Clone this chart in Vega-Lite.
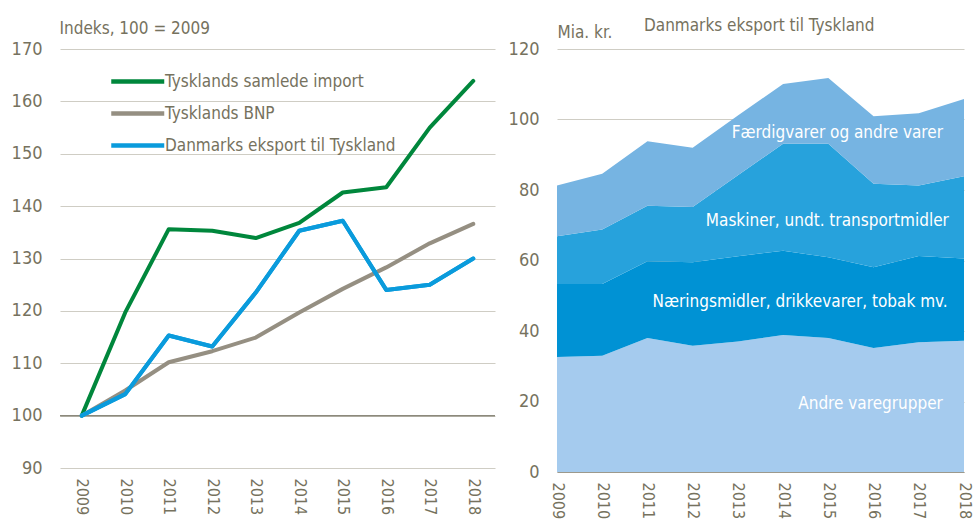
{
  "$schema": "https://vega.github.io/schema/vega-lite/v6.json",
  "background": "white",
  "padding": {"left": 11, "top": 17, "right": 5, "bottom": 0},
  "spacing": 62,
  "bounds": "flush",
  "config": {
    "view": {"stroke": null},
    "font": "DejaVu Sans Condensed",
    "axis": {"labelFont": "DejaVu Sans Condensed", "titleFont": "DejaVu Sans Condensed", "labelColor": "#76725E", "titleColor": "#76725E", "labelFontSize": 18, "titleFontSize": 17, "titleFontWeight": "normal", "gridColor": "#CFCDC4", "gridWidth": 1.2}
  },
  "datasets": {
    "index": [
      {"year": "2009", "series": "Tysklands samlede import", "value": 100},
      {"year": "2010", "series": "Tysklands samlede import", "value": 119.7},
      {"year": "2011", "series": "Tysklands samlede import", "value": 135.6},
      {"year": "2012", "series": "Tysklands samlede import", "value": 135.3},
      {"year": "2013", "series": "Tysklands samlede import", "value": 133.9},
      {"year": "2014", "series": "Tysklands samlede import", "value": 136.8},
      {"year": "2015", "series": "Tysklands samlede import", "value": 142.6},
      {"year": "2016", "series": "Tysklands samlede import", "value": 143.6},
      {"year": "2017", "series": "Tysklands samlede import", "value": 155.0},
      {"year": "2018", "series": "Tysklands samlede import", "value": 163.9},
      {"year": "2009", "series": "Tysklands BNP", "value": 100},
      {"year": "2010", "series": "Tysklands BNP", "value": 104.8},
      {"year": "2011", "series": "Tysklands BNP", "value": 110.2},
      {"year": "2012", "series": "Tysklands BNP", "value": 112.3},
      {"year": "2013", "series": "Tysklands BNP", "value": 114.9},
      {"year": "2014", "series": "Tysklands BNP", "value": 119.7},
      {"year": "2015", "series": "Tysklands BNP", "value": 124.2},
      {"year": "2016", "series": "Tysklands BNP", "value": 128.3},
      {"year": "2017", "series": "Tysklands BNP", "value": 132.9},
      {"year": "2018", "series": "Tysklands BNP", "value": 136.6},
      {"year": "2009", "series": "Danmarks eksport til Tyskland", "value": 100},
      {"year": "2010", "series": "Danmarks eksport til Tyskland", "value": 104.1},
      {"year": "2011", "series": "Danmarks eksport til Tyskland", "value": 115.3},
      {"year": "2012", "series": "Danmarks eksport til Tyskland", "value": 113.2},
      {"year": "2013", "series": "Danmarks eksport til Tyskland", "value": 123.5},
      {"year": "2014", "series": "Danmarks eksport til Tyskland", "value": 135.3},
      {"year": "2015", "series": "Danmarks eksport til Tyskland", "value": 137.2},
      {"year": "2016", "series": "Danmarks eksport til Tyskland", "value": 124.0},
      {"year": "2017", "series": "Danmarks eksport til Tyskland", "value": 125.0},
      {"year": "2018", "series": "Danmarks eksport til Tyskland", "value": 130.0}
    ],
    "export": [
      {"year": "2009", "group": "Andre varegrupper", "value": 32.6},
      {"year": "2010", "group": "Andre varegrupper", "value": 33.0},
      {"year": "2011", "group": "Andre varegrupper", "value": 38.0},
      {"year": "2012", "group": "Andre varegrupper", "value": 35.8},
      {"year": "2013", "group": "Andre varegrupper", "value": 37.0},
      {"year": "2014", "group": "Andre varegrupper", "value": 38.9},
      {"year": "2015", "group": "Andre varegrupper", "value": 38.0},
      {"year": "2016", "group": "Andre varegrupper", "value": 35.2},
      {"year": "2017", "group": "Andre varegrupper", "value": 36.8},
      {"year": "2018", "group": "Andre varegrupper", "value": 37.2},
      {"year": "2009", "group": "Næringsmidler", "value": 20.7},
      {"year": "2010", "group": "Næringsmidler", "value": 20.3},
      {"year": "2011", "group": "Næringsmidler", "value": 21.8},
      {"year": "2012", "group": "Næringsmidler", "value": 23.7},
      {"year": "2013", "group": "Næringsmidler", "value": 24.2},
      {"year": "2014", "group": "Næringsmidler", "value": 23.9},
      {"year": "2015", "group": "Næringsmidler", "value": 22.9},
      {"year": "2016", "group": "Næringsmidler", "value": 22.9},
      {"year": "2017", "group": "Næringsmidler", "value": 24.5},
      {"year": "2018", "group": "Næringsmidler", "value": 23.4},
      {"year": "2009", "group": "Maskiner", "value": 13.6},
      {"year": "2010", "group": "Maskiner", "value": 15.5},
      {"year": "2011", "group": "Maskiner", "value": 15.7},
      {"year": "2012", "group": "Maskiner", "value": 15.7},
      {"year": "2013", "group": "Maskiner", "value": 23.0},
      {"year": "2014", "group": "Maskiner", "value": 30.3},
      {"year": "2015", "group": "Maskiner", "value": 32.2},
      {"year": "2016", "group": "Maskiner", "value": 23.7},
      {"year": "2017", "group": "Maskiner", "value": 20.0},
      {"year": "2018", "group": "Maskiner", "value": 23.3},
      {"year": "2009", "group": "Færdigvarer", "value": 14.4},
      {"year": "2010", "group": "Færdigvarer", "value": 15.8},
      {"year": "2011", "group": "Færdigvarer", "value": 18.3},
      {"year": "2012", "group": "Færdigvarer", "value": 16.8},
      {"year": "2013", "group": "Færdigvarer", "value": 16.9},
      {"year": "2014", "group": "Færdigvarer", "value": 17.0},
      {"year": "2015", "group": "Færdigvarer", "value": 18.7},
      {"year": "2016", "group": "Færdigvarer", "value": 19.1},
      {"year": "2017", "group": "Færdigvarer", "value": 20.5},
      {"year": "2018", "group": "Færdigvarer", "value": 21.9}
    ],
    "labels": [
      {"key": "f", "label": "Færdigvarer og andre varer", "year": "2015", "value": 96.3},
      {"key": "m", "label": "Maskiner, undt. transportmidler", "year": "2015", "value": 71.2},
      {"key": "n", "label": "Næringsmidler, drikkevarer, tobak mv.", "year": "2014", "value": 48.3},
      {"key": "a", "label": "Andre varegrupper", "year": "2016", "value": 19.3}
    ]
  },
  "resolve": {"scale": {"color": "independent"}, "legend": {"color": "independent"}},
  "hconcat": [
    {
      "width": 435,
      "height": 419,
      "layer": [
        {
          "data": {"name": "index"},
          "mark": {"type": "line", "strokeWidth": 4, "strokeJoin": "round", "strokeCap": "round"},
          "encoding": {
            "x": {"field": "year", "type": "ordinal", "scale": {"type": "point", "padding": 0.5},
                  "axis": {"title": null, "labelAngle": 90, "labelAlign": "left", "labelBaseline": "middle", "labelPadding": 10, "labelFontSize": 16, "ticks": false, "domain": false, "grid": false}},
            "y": {"field": "value", "type": "quantitative", "scale": {"domain": [90, 170], "nice": false, "zero": false},
                  "axis": {"values": [90, 100, 110, 120, 130, 140, 150, 160, 170], "domain": false, "ticks": false, "labelPadding": 18,
                           "title": "Indeks, 100 = 2009", "titleAngle": 0, "titleAlign": "left", "titleBaseline": "alphabetic", "titleX": -1, "titleY": -16}},
            "color": {"field": "series", "type": "nominal",
                      "scale": {"domain": ["Tysklands samlede import", "Tysklands BNP", "Danmarks eksport til Tyskland"], "range": ["#00873C", "#958F82", "#0A9BDC"]},
                      "legend": {"orient": "none", "legendX": 49, "legendY": 17, "title": null, "symbolType": "M-1,0H3", "symbolStrokeWidth": 4.5, "symbolSize": 702,
                                 "labelFont": "DejaVu Sans Condensed", "labelFontSize": 17, "labelColor": "#76725E", "labelLimit": 0, "rowPadding": 7, "labelOffset": 25, "padding": 0}}
          }
        },
        {
          "data": {"values": [{"ref": 100}]},
          "mark": {"type": "rule", "color": "#8C897C", "strokeWidth": 1.5},
          "encoding": {"y": {"field": "ref", "type": "quantitative"}}
        },
        {
          "data": {"name": "index"},
          "transform": [{"filter": "datum.series === 'Danmarks eksport til Tyskland'"}],
          "mark": {"type": "line", "strokeWidth": 4, "strokeJoin": "round", "strokeCap": "round", "color": "#0A9BDC"},
          "encoding": {
            "x": {"field": "year", "type": "ordinal"},
            "y": {"field": "value", "type": "quantitative"}
          }
        }
      ]
    },
    {
      "width": 407,
      "height": 423,
      "title": {"text": "Danmarks eksport til Tyskland", "anchor": "start", "frame": "group", "dx": 87, "offset": -12, "font": "DejaVu Sans Condensed", "fontSize": 17, "fontWeight": "normal", "color": "#76725E"},
      "layer": [
        {
          "data": {"name": "export"},
          "transform": [{"calculate": "indexof(['Andre varegrupper','Næringsmidler','Maskiner','Færdigvarer'], datum.group)", "as": "stackorder"}],
          "mark": {"type": "area"},
          "encoding": {
            "x": {"field": "year", "type": "ordinal", "scale": {"type": "point", "padding": 0},
                  "axis": {"title": null, "labelAngle": 90, "labelAlign": "left", "labelBaseline": "middle", "labelPadding": 10, "labelFontSize": 16, "ticks": false, "domain": true, "domainColor": "#9C998C", "grid": false}},
            "y": {"field": "value", "type": "quantitative", "stack": "zero", "scale": {"domain": [0, 120], "nice": false},
                  "axis": {"values": [0, 20, 40, 60, 80, 100, 120], "domain": false, "ticks": false, "labelPadding": 18,
                           "title": "Mia. kr.", "titleAngle": 0, "titleAlign": "left", "titleBaseline": "alphabetic", "titleX": 0, "titleY": -12}},
            "color": {"field": "group", "type": "nominal",
                      "scale": {"domain": ["Andre varegrupper", "Næringsmidler", "Maskiner", "Færdigvarer"], "range": ["#A5CBEE", "#0092D4", "#27A2DC", "#76B4E2"]},
                      "legend": null},
            "order": {"field": "stackorder", "type": "quantitative", "sort": "ascending"}
          }
        },
        {
          "data": {"name": "labels"},
          "transform": [{"filter": "datum.key === 'f'"}],
          "mark": {"type": "text", "color": "white", "fontSize": 17, "font": "DejaVu Sans Condensed", "align": "center", "baseline": "middle", "dx": 9},
          "encoding": {"x": {"field": "year", "type": "ordinal"}, "y": {"field": "value", "type": "quantitative"}, "text": {"field": "label"}}
        },
        {
          "data": {"name": "labels"},
          "transform": [{"filter": "datum.key === 'm'"}],
          "mark": {"type": "text", "color": "white", "fontSize": 17, "font": "DejaVu Sans Condensed", "align": "center", "baseline": "middle", "dx": -1},
          "encoding": {"x": {"field": "year", "type": "ordinal"}, "y": {"field": "value", "type": "quantitative"}, "text": {"field": "label"}}
        },
        {
          "data": {"name": "labels"},
          "transform": [{"filter": "datum.key === 'n'"}],
          "mark": {"type": "text", "color": "white", "fontSize": 17, "font": "DejaVu Sans Condensed", "align": "center", "baseline": "middle", "dx": 17},
          "encoding": {"x": {"field": "year", "type": "ordinal"}, "y": {"field": "value", "type": "quantitative"}, "text": {"field": "label"}}
        },
        {
          "data": {"name": "labels"},
          "transform": [{"filter": "datum.key === 'a'"}],
          "mark": {"type": "text", "color": "white", "fontSize": 17, "font": "DejaVu Sans Condensed", "align": "center", "baseline": "middle", "dx": -3},
          "encoding": {"x": {"field": "year", "type": "ordinal"}, "y": {"field": "value", "type": "quantitative"}, "text": {"field": "label"}}
        }
      ]
    }
  ]
}
